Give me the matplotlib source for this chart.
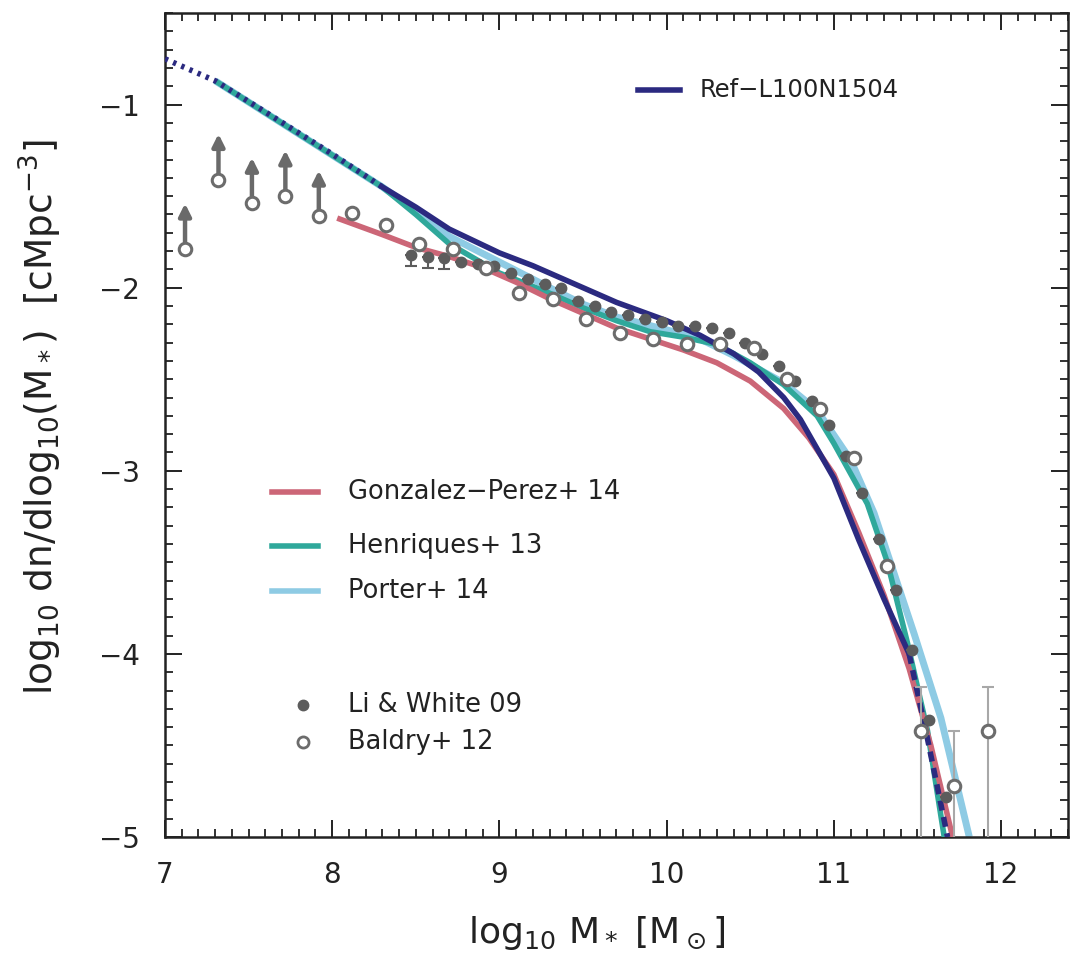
import matplotlib
matplotlib.use("Agg")
import matplotlib.pyplot as plt
import numpy as np
from matplotlib.ticker import MultipleLocator

plt.rcParams['font.family'] = ['DejaVu Sans']
plt.rcParams['mathtext.fontset'] = 'dejavusans'

# ---------------- data ----------------
# EAGLE Ref-L100N1504 (dotted below 8.3, solid, dashed above 11.45)
ref_x = [7.0, 7.3, 7.6, 8.0, 8.3, 8.5, 8.7, 9.0, 9.2, 9.4, 9.55, 9.7, 9.85, 10.0, 10.2, 10.3, 10.4, 10.55, 10.7, 10.8, 11.0, 11.15, 11.3, 11.45, 11.55, 11.68]
ref_y = [-0.75, -0.87, -1.04, -1.27, -1.45, -1.56, -1.68, -1.81, -1.88, -1.96, -2.02, -2.08, -2.13, -2.18, -2.26, -2.31, -2.36, -2.46, -2.60, -2.72, -3.04, -3.38, -3.70, -4.0, -4.42, -5.0]
ref_dotted_end = 8.3
ref_dashed_start = 11.45

# Gonzalez-Perez+14
gp_x = [8.03, 8.3, 8.5, 8.7, 8.9, 9.1, 9.3, 9.5, 9.7, 9.9, 10.1, 10.3, 10.5, 10.7, 10.85, 11.0, 11.15, 11.3, 11.45, 11.58, 11.71]
gp_y = [-1.62, -1.71, -1.78, -1.83, -1.89, -1.97, -2.06, -2.14, -2.22, -2.28, -2.34, -2.41, -2.51, -2.66, -2.82, -3.02, -3.34, -3.68, -4.08, -4.5, -5.0]

# Henriques+13
hen_x = [7.3, 8.3, 8.5, 8.7, 9.0, 9.3, 9.5, 9.7, 9.9, 10.1, 10.3, 10.5, 10.7, 10.9, 11.0, 11.2, 11.32, 11.44, 11.56, 11.66]
hen_y = [-0.87, -1.45, -1.60, -1.76, -1.92, -2.03, -2.11, -2.18, -2.24, -2.27, -2.31, -2.41, -2.53, -2.70, -2.85, -3.18, -3.50, -3.94, -4.42, -5.0]

# Porter+14
por_x = [7.3, 8.3, 8.5, 8.7, 9.0, 9.3, 9.5, 9.7, 10.0, 10.2, 10.4, 10.7, 10.9, 11.1, 11.24, 11.4, 11.48, 11.64, 11.81]
por_y = [-0.87, -1.45, -1.58, -1.72, -1.86, -2.00, -2.09, -2.16, -2.23, -2.28, -2.37, -2.52, -2.67, -2.94, -3.23, -3.67, -3.89, -4.35, -5.0]

# Li & White 09 (filled)
lw_x = [8.47, 8.57, 8.67, 8.77, 8.87, 8.97, 9.07, 9.17, 9.27, 9.37, 9.47, 9.57, 9.67, 9.77, 9.87, 9.97, 10.07, 10.17,
        10.27, 10.37, 10.47, 10.57, 10.67, 10.77, 10.87, 10.97, 11.07, 11.17, 11.27, 11.37, 11.47, 11.57, 11.67]
lw_y = [-1.82, -1.83, -1.84, -1.86, -1.87, -1.88, -1.92, -1.95, -1.98, -2.00, -2.07, -2.10, -2.13, -2.15, -2.17, -2.19, -2.21, -2.21,
        -2.22, -2.25, -2.30, -2.36, -2.43, -2.51, -2.62, -2.75, -2.92, -3.12, -3.37, -3.65, -3.98, -4.36, -4.78]
lw_err = [0.06, 0.06, 0.06] + [0.0] * 30

# Baldry+12 (open), first five are lower limits
bal_x = [7.12, 7.32, 7.52, 7.72, 7.92, 8.12, 8.32, 8.52, 8.72, 8.92, 9.12, 9.32, 9.52, 9.72, 9.92, 10.12,
         10.32, 10.52, 10.72, 10.92, 11.12, 11.32, 11.52, 11.72, 11.92]
bal_y = [-1.79, -1.41, -1.54, -1.50, -1.61, -1.59, -1.66, -1.76, -1.79, -1.89, -2.03, -2.06, -2.17, -2.25, -2.28, -2.31,
         -2.31, -2.33, -2.50, -2.66, -2.93, -3.52, -4.42, -4.72, -4.42]
bal_err_up = [0.0] * 22 + [0.24, 0.30, 0.24]
bal_err_lo = [0.0] * 22 + [1.0, 1.0, 1.0]
n_limits = 5

# ---------------- styling ----------------
c_ref = '#2b2a80'
c_gp = '#cc6677'
c_hen = '#2fa89b'
c_por = '#8ecbe4'
c_pt = '#5c5c5c'
c_open = '#6c6c6c'

fig = plt.figure(figsize=(10.74, 9.59), dpi=100)
ax = fig.add_axes([0.1536, 0.1272, 0.8408, 0.8592])

ax.plot(por_x, por_y, color=c_por, lw=5, solid_capstyle='butt', zorder=2)
ax.plot(hen_x, hen_y, color=c_hen, lw=4, solid_capstyle='butt', zorder=3)
ax.plot(gp_x, gp_y, color=c_gp, lw=4, solid_capstyle='butt', zorder=3)

rx = np.array(ref_x)
ry = np.array(ref_y)
m1 = rx <= ref_dotted_end
m2 = (rx >= ref_dotted_end) & (rx <= ref_dashed_start)
m3 = rx >= ref_dashed_start
ax.plot(rx[m1], ry[m1], color=c_ref, lw=4, ls=(0, (0.6, 1.0)), zorder=4)
ax.plot(rx[m2], ry[m2], color=c_ref, lw=4, zorder=4)
ax.plot(rx[m3], ry[m3], color=c_ref, lw=4, ls=(0, (1.8, 1.2)), zorder=4)

# Li & White
ax.errorbar(lw_x, lw_y, yerr=[lw_err, [0.0] * len(lw_err)], fmt='o', color=c_pt, ms=7.5,
            ecolor=c_pt, elinewidth=1.5, capsize=4, capthick=1.5, zorder=6)

# Baldry
ax.errorbar(bal_x, bal_y, yerr=[bal_err_lo, bal_err_up], fmt='none', ecolor='#a8a8a8',
            elinewidth=1.5, capsize=4, capthick=1.5, zorder=5)
ax.plot(bal_x, bal_y, 'o', mfc='white', mec=c_open, mew=2.2, ms=9, zorder=7)
for i in range(n_limits):
    ax.annotate('', xy=(bal_x[i], bal_y[i] + 0.25), xytext=(bal_x[i], bal_y[i] + 0.035),
                arrowprops=dict(arrowstyle='-|>', color='#6a6a6a', lw=3.2, mutation_scale=18,
                                shrinkA=0, shrinkB=0), zorder=6)

ax.set_xlim(7.0, 12.4)
ax.set_ylim(-5.0, -0.5)

ax.xaxis.set_major_locator(MultipleLocator(1))
ax.xaxis.set_minor_locator(MultipleLocator(0.1))
ax.yaxis.set_major_locator(MultipleLocator(1))
ax.yaxis.set_minor_locator(MultipleLocator(0.1))
ax.tick_params(which='both', direction='in', top=True, right=True, colors='#222222', labelsize=20)
ax.tick_params(which='major', length=12, width=1.4)
ax.tick_params(axis='x', which='major', pad=17)
ax.tick_params(axis='y', which='major', pad=18)
ax.tick_params(which='minor', length=6, width=1.3)
for s in ax.spines.values():
    s.set_linewidth(1.8)
    s.set_color('#222222')

ax.set_xlabel(r'log$_{10}$ M$_*$ [M$_\odot$]', fontsize=26, color='#222222')
ax.set_ylabel(r'log$_{10}$ dn/dlog$_{10}$(M$_*$)  [cMpc$^{-3}$]', fontsize=27, color='#222222')
ax.xaxis.set_label_coords(0.478, -0.093)
ax.yaxis.set_label_coords(-0.112, 0.51)

# legends (manual)
tr = ax.transAxes
ax.plot([0.524, 0.570], [0.9066, 0.9066], color=c_ref, lw=4, transform=tr)
ax.text(0.592, 0.9066, 'Ref\u2212L100N1504', transform=tr, fontsize=17.5, va='center', color='#222222')

leg = [('Gonzalez\u2212Perez+ 14', c_gp, 0.419), ('Henriques+ 13', c_hen, 0.353), ('Porter+ 14', c_por, 0.2985)]
for label, col, yy in leg:
    ax.plot([0.118, 0.169], [yy, yy], color=col, lw=4, transform=tr)
    ax.text(0.203, yy, label, transform=tr, fontsize=18.5, va='center', color='#222222')

ax.plot([0.153], [0.160], 'o', color=c_pt, ms=7.5, transform=tr)
ax.text(0.203, 0.160, 'Li & White 09', transform=tr, fontsize=18.5, va='center', color='#222222')
ax.plot([0.153], [0.115], 'o', mfc='white', mec=c_open, mew=2.0, ms=8, transform=tr)
ax.text(0.203, 0.115, 'Baldry+ 12', transform=tr, fontsize=18.5, va='center', color='#222222')

fig.savefig('out.png', dpi=100)
